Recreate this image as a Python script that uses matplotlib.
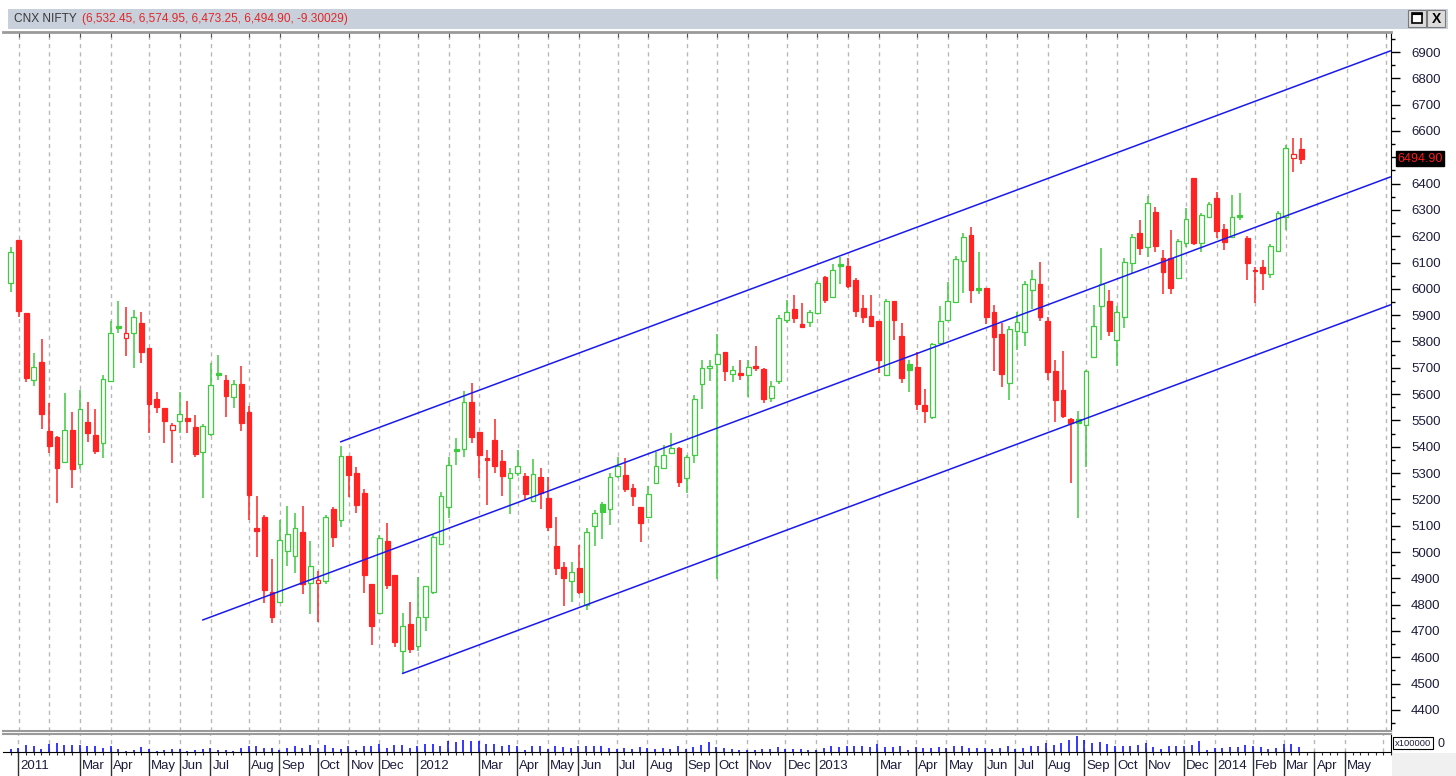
import numpy as np
import pandas as pd
import matplotlib
matplotlib.use("Agg")
import matplotlib.pyplot as plt
import matplotlib.transforms as mtransforms
from matplotlib.patches import Rectangle
from matplotlib.ticker import FuncFormatter

plt.rcParams["font.family"] = ["Liberation Sans", "DejaVu Sans"]

# ======================================================
# Data: weekly CNX NIFTY candles (week ending 31 Dec 2010 .. 21 Mar 2014)
# ======================================================

FIRST_WEEK_END = "2010-12-31"
N_SLOTS = 181  # weeks shown on the time axis (incl. empty weeks on the right)

opens = [
    6022, 6186, 5908, 5654, 5722, 5460, 5437, 5342, 5464, 5335,
    5494, 5445, 5414, 5650, 5855, 5813, 5832, 5870, 5775, 5582,
    5547, 5464, 5498, 5509, 5475, 5380, 5449, 5680, 5654, 5589,
    5639, 5532, 5092, 5133, 4848, 4810, 5004, 4985, 5076, 4882,
    4882, 4890, 5164, 5122, 5365, 5300, 5224, 4879, 4768, 5042,
    4913, 4624, 4727, 4643, 4753, 4848, 5031, 5171, 5392, 5392,
    5570, 5456, 5352, 5426, 5346, 5281, 5300, 5289, 5194, 5285,
    5205, 5023, 4943, 4890, 4939, 4799, 5099, 5183, 5164, 5289,
    5293, 5243, 5171, 5133, 5262, 5319, 5376, 5395, 5281, 5369,
    5639, 5699, 5715, 5760, 5677, 5675, 5673, 5700, 5696, 5586,
    5650, 5882, 5924, 5866, 5874, 5908, 6045, 5969, 6094, 6087,
    6034, 5927, 5897, 5878, 5673, 5954, 5821, 5715, 5703, 5559,
    5513, 5794, 5882, 5950, 6106, 6205, 6000, 6003, 5912, 5829,
    5642, 5840, 5836, 5996, 6018, 5878, 5688, 5616, 5506, 5506,
    5483, 5741, 5935, 5954, 5806, 5893, 6098, 6212, 6159, 6292,
    6117, 6117, 6041, 6174, 6421, 6174, 6273, 6345, 6227, 6197,
    6278, 6193, 6072, 6083, 6056, 6144, 6273, 6497, 6532.45,
]

highs = [
    6159, 6186, 5908, 5756, 5809, 5566, 5440, 5604, 5532, 5616,
    5570, 5544, 5673, 5878, 5954, 5931, 5920, 5912, 5775, 5608,
    5547, 5490, 5608, 5574, 5521, 5485, 5718, 5749, 5673, 5654,
    5707, 5555, 5213, 5140, 4974, 5122, 5175, 5149, 5175, 5042,
    4928, 5140, 5172, 5403, 5365, 5323, 5240, 4879, 5065, 5110,
    4913, 4768, 4810, 4905, 4871, 5065, 5230, 5361, 5433, 5612,
    5642, 5456, 5388, 5506, 5388, 5319, 5388, 5300, 5354, 5319,
    5285, 5133, 4962, 4962, 5027, 5092, 5160, 5190, 5300, 5361,
    5357, 5260, 5171, 5250, 5380, 5407, 5452, 5400, 5368, 5597,
    5730, 5730, 5829, 5760, 5707, 5730, 5730, 5783, 5700, 5650,
    5900, 5958, 5977, 5946, 5920, 6030, 6050, 6094, 6121, 6117,
    6040, 5977, 5977, 5878, 5960, 5954, 5870, 5730, 5760, 5620,
    5795, 5935, 6026, 6125, 6212, 6235, 6140, 6003, 5939, 5870,
    5860, 5912, 6030, 6072, 6102, 5893, 5730, 5764, 5510, 5536,
    5692, 5939, 6155, 5996, 5935, 6117, 6210, 6262, 6353, 6310,
    6148, 6224, 6190, 6307, 6421, 6290, 6330, 6368, 6245, 6357,
    6364, 6200, 6083, 6110, 6170, 6295, 6547, 6573, 6574.95,
]

lows = [
    5988, 5893, 5646, 5631, 5468, 5377, 5186, 5342, 5243, 5316,
    5418, 5373, 5357, 5650, 5832, 5745, 5699, 5718, 5452, 5530,
    5414, 5338, 5452, 5452, 5361, 5205, 5440, 5654, 5513, 5547,
    5460, 5122, 4981, 4806, 4730, 4805, 4947, 4920, 4840, 4765,
    4734, 4880, 5019, 5095, 5209, 5149, 4844, 4647, 4768, 4860,
    4640, 4540, 4617, 4624, 4700, 4840, 5031, 5129, 5331, 5361,
    5415, 5281, 5179, 5300, 5213, 5145, 5290, 5200, 5194, 5164,
    5080, 4913, 4795, 4810, 4841, 4780, 5023, 5050, 5103, 5281,
    5230, 5175, 5038, 5133, 5262, 5319, 5376, 5247, 5224, 5340,
    5544, 5650, 4898, 5650, 5646, 5654, 5589, 5688, 5566, 5570,
    5640, 5870, 5870, 5850, 5855, 5905, 5946, 5969, 6018, 6003,
    5893, 5870, 5855, 5680, 5673, 5806, 5642, 5608, 5540, 5490,
    5505, 5794, 5882, 5946, 5984, 5946, 5980, 5866, 5688, 5627,
    5578, 5768, 5783, 5924, 5878, 5654, 5494, 5510, 5262, 5129,
    5323, 5741, 5806, 5820, 5707, 5850, 6060, 6130, 6120, 6140,
    5981, 5981, 6041, 6159, 6168, 6140, 6270, 6195, 6148, 6197,
    6260, 6034, 5946, 5996, 6040, 6144, 6224, 6444, 6473.25,
]

closes = [
    6140, 5916, 5661, 5703, 5525, 5403, 5319, 5464, 5316, 5544,
    5452, 5384, 5658, 5832, 5851, 5832, 5893, 5760, 5563, 5551,
    5498, 5483, 5525, 5498, 5373, 5479, 5635, 5673, 5593, 5639,
    5490, 5217, 5080, 4856, 4753, 5046, 5069, 5092, 4879, 4947,
    4894, 5133, 5057, 5365, 5293, 5179, 4913, 4719, 5053, 4875,
    4658, 4719, 4632, 4753, 4871, 5057, 5213, 5331, 5384, 5570,
    5437, 5369, 5350, 5327, 5289, 5300, 5327, 5221, 5297, 5224,
    5095, 4939, 4901, 4924, 4848, 5076, 5149, 5152, 5285, 5327,
    5240, 5213, 5110, 5221, 5327, 5369, 5395, 5266, 5361, 5582,
    5699, 5707, 5753, 5688, 5690, 5673, 5703, 5699, 5582, 5631,
    5889, 5912, 5889, 5855, 5912, 6022, 5958, 6072, 6087, 6011,
    5916, 5893, 5859, 5730, 5954, 5882, 5661, 5692, 5563, 5536,
    5791, 5878, 5954, 6113, 6197, 5996, 5997, 5893, 5817, 5677,
    5848, 5874, 6018, 6037, 5893, 5684, 5578, 5517, 5490, 5492,
    5688, 5859, 6018, 5840, 5912, 6102, 6197, 6155, 6326, 6163,
    6064, 6003, 6182, 6266, 6174, 6281, 6322, 6220, 6178, 6273,
    6274, 6098, 6066, 6060, 6163, 6288, 6535, 6512, 6494.90,
]

# weekly volume, x100000
volumes = [
    30, 40, 70, 60, 30, 80, 90, 70, 70, 70,
    60, 60, 40, 60, 30, 10, 20, 50, 30, 10,
    20, 30, 30, 10, 20, 30, 40, 20, 20, 10,
    40, 60, 60, 40, 40, 20, 40, 60, 40, 70,
    40, 70, 40, 30, 60, 20, 60, 60, 80, 40,
    70, 70, 40, 60, 80, 80, 60, 110, 100, 120,
    110, 110, 80, 80, 60, 70, 60, 20, 60, 60,
    30, 60, 50, 40, 60, 60, 60, 60, 40, 30,
    40, 30, 50, 40, 30, 40, 30, 60, 30, 50,
    70, 100, 50, 40, 30, 20, 20, 20, 30, 30,
    50, 30, 30, 30, 20, 20, 40, 60, 50, 60,
    60, 60, 50, 80, 50, 50, 60, 20, 50, 40,
    40, 50, 40, 60, 60, 40, 40, 40, 30, 40,
    60, 30, 40, 60, 60, 90, 70, 90, 120, 160,
    120, 90, 100, 80, 60, 60, 60, 70, 90, 50,
    30, 60, 60, 60, 70, 110, 20, 40, 40, 50,
    50, 70, 60, 50, 30, 40, 80, 80, 50,
]

# hand-drawn trend channel: (week index, price) anchors
channel_upper = [(42.96, 5419), (179.6, 6904)]
channel_middle = [(25.0, 4742), (179.6, 6425)]
channel_lower = [(51.03, 4539), (179.6, 5939)]

TITLE_NAME = "CNX NIFTY"
TITLE_VALUES = "(6,532.45, 6,574.95, 6,473.25, 6,494.90, -9.30029)"

# ======================================================
# Setup
# ======================================================

W_PX, H_PX = 1456, 776
GREEN = "#3fca3f"
RED = "#ff2424"
BLUE = "#1a1aee"
LABEL_COLOR = "#1c1c3c"
GRID_COLOR = "#b8b8b8"
XLIM = (-1.02, 179.7)
YLIM = (4320, 6976)


def fig_xy(x, y):
    return x / W_PX, 1 - y / H_PX


fig = plt.figure(figsize=(W_PX / 100, H_PX / 100), dpi=100)
fig.patch.set_facecolor("white")

ax = fig.add_axes([3 / W_PX, 45 / H_PX, 1388 / W_PX, 699 / H_PX])
axv = fig.add_axes([3 / W_PX, 24 / H_PX, 1388 / W_PX, 18 / H_PX])

# ------------------------------------------------------
# Time axis (week ending dates, month starts)
# ------------------------------------------------------
week_ends = pd.date_range(FIRST_WEEK_END, periods=N_SLOTS, freq="7D")
month_idx = [i for i in range(1, N_SLOTS)
             if week_ends[i].month != week_ends[i - 1].month]

month_labels = []
prev_i, prev_is_year = None, False
for i in month_idx:
    d = week_ends[i]
    is_year = d.month == 1
    if prev_is_year and i - prev_i < 5:
        continue
    if i > XLIM[1] - 2:
        continue
    month_labels.append((i, str(d.year) if is_year else d.strftime("%b")))
    prev_i, prev_is_year = i, is_year

# ------------------------------------------------------
# Candles
# ------------------------------------------------------
o = np.array(opens)
h = np.array(highs)
l = np.array(lows)
c = np.array(closes)
x = np.arange(len(c))

prev_close = np.r_[c[0], c[:-1]]
up = c >= prev_close
colors = np.where(up, GREEN, RED)
filled = c < o
faces = np.where(filled, colors, "white")

ax.vlines(x, l, h, colors=colors, linewidth=1.1, zorder=2)
body_low = np.minimum(o, c)
body_h = np.maximum(np.abs(c - o), 7)
ax.bar(x, body_h, bottom=body_low, width=0.62, color=faces,
       edgecolor=colors, linewidth=0.9, zorder=3)

# trend channel
for line in (channel_upper, channel_middle, channel_lower):
    xs, ys = zip(*line)
    ax.plot(xs, ys, color=BLUE, linewidth=1.1, zorder=4)

ax.set_xlim(*XLIM)
ax.set_ylim(*YLIM)

ax.yaxis.tick_right()
ax.set_yticks(np.arange(4400, 7000, 100))
ax.set_yticks(np.arange(4350, 6976, 50), minor=True)
# the tick label hidden under the last-price box is left blank
ax.yaxis.set_major_formatter(
    FuncFormatter(lambda v, p: "" if abs(v - c[-1]) < 40 else f"{v:.0f}"))
ax.tick_params(axis="y", which="major", direction="out", length=6.5,
               width=1, pad=8, labelsize=9.5, labelcolor=LABEL_COLOR)
ax.tick_params(axis="y", which="minor", direction="out", length=3.2, width=1)

ax.set_xticks(month_idx)
ax.tick_params(axis="x", which="both", top=True, bottom=False,
               labeltop=False, labelbottom=False, direction="in",
               length=3.5, color="#505050")
ax.grid(axis="x", linestyle=(0, (3, 3)), color=GRID_COLOR, linewidth=1)
ax.set_axisbelow(True)

ax.spines["left"].set_visible(False)
ax.spines["top"].set_color("#9a9a9a")
ax.spines["top"].set_linewidth(2)
ax.spines["bottom"].set_color("#9a9a9a")
ax.spines["bottom"].set_linewidth(1.5)
ax.spines["right"].set_color("black")

# last price marker
trans = mtransforms.blended_transform_factory(ax.transAxes, ax.transData)
ax.text(1.0045, c[-1], f"{c[-1]:.2f}", transform=trans, ha="left",
        va="center", fontsize=9, color="#ff1a1a", clip_on=False, zorder=10,
        bbox=dict(boxstyle="square,pad=0.12", facecolor="black",
                  edgecolor="black"))

# ------------------------------------------------------
# Volume panel
# ------------------------------------------------------
vx = np.arange(len(volumes))
axv.vlines(vx, 0, volumes, colors="#0000ff", linewidth=1.1)
axv.set_xlim(*XLIM)
axv.set_ylim(0, 185)
axv.set_yticks([])
axv.set_xticks([])
axv.set_xticks(np.arange(0, N_SLOTS), minor=True)
axv.tick_params(axis="x", which="minor", direction="out", length=2,
                width=0.8, color="#303030")
for i in month_idx:
    axv.axvline(i, linestyle=(0, (3, 3)), color=GRID_COLOR, linewidth=1,
                zorder=0)
axv.spines["left"].set_visible(False)
axv.spines["top"].set_color("#9a9a9a")
axv.spines["top"].set_linewidth(1.5)
axv.spines["bottom"].set_color("black")
axv.spines["right"].set_color("black")

# month labels with separators
vtrans = mtransforms.blended_transform_factory(axv.transData, axv.transAxes)
for i, lab in month_labels:
    axv.plot([i, i], [0, -1.35], transform=vtrans, color="#303030",
             linewidth=1, clip_on=False)
    axv.text(i + 0.3, -0.8, lab, transform=vtrans, ha="left", va="center",
             fontsize=9.5, color=LABEL_COLOR, clip_on=False)

# ------------------------------------------------------
# Window chrome
# ------------------------------------------------------
x0, y0 = fig_xy(8, 29)
fig.add_artist(Rectangle((x0, y0), 1440 / W_PX, 20 / H_PX,
                         transform=fig.transFigure, facecolor="#c8d0dc",
                         edgecolor="none", zorder=0))
fig.text(*fig_xy(14, 19), TITLE_NAME, ha="left", va="center",
         fontsize=8.6, color="#3a3a3a")
fig.text(*fig_xy(82, 19), TITLE_VALUES, ha="left", va="center",
         fontsize=8.6, color="#e02828")

# restore / close buttons
for bx in (1408, 1427):
    fx, fy = fig_xy(bx, 27)
    fig.add_artist(Rectangle((fx, fy), 18 / W_PX, 17 / H_PX,
                             transform=fig.transFigure, facecolor="#dcdcdc",
                             edgecolor="#7a7a7a", linewidth=0.8))
fx, fy = fig_xy(1412, 23)
fig.add_artist(Rectangle((fx, fy), 10 / W_PX, 10 / H_PX,
                         transform=fig.transFigure, facecolor="white",
                         edgecolor="black", linewidth=1.2))
fx, fy = fig_xy(1412, 14)
fig.add_artist(Rectangle((fx, fy), 10 / W_PX, 1.5 / H_PX,
                         transform=fig.transFigure, facecolor="black",
                         edgecolor="black", linewidth=0.8))
fig.text(*fig_xy(1436, 19), "X", ha="center", va="center", fontsize=10,
         fontweight="bold", color="black")

# volume scale box and lower-right corner
fx, fy = fig_xy(1392, 776)
fig.add_artist(Rectangle((fx, fy), 64 / W_PX, 23 / H_PX,
                         transform=fig.transFigure, facecolor="#f0f0f0",
                         edgecolor="none", zorder=0))
fig.text(*fig_xy(1395, 743), "x100000", ha="left", va="center",
         fontsize=6.8, color=LABEL_COLOR,
         bbox=dict(boxstyle="square,pad=0.2", facecolor="white",
                   edgecolor="black", linewidth=0.8))
fig.text(*fig_xy(1437, 744), "0", ha="left", va="center", fontsize=9,
         color=LABEL_COLOR)

fig.savefig("out.png", dpi=100)
